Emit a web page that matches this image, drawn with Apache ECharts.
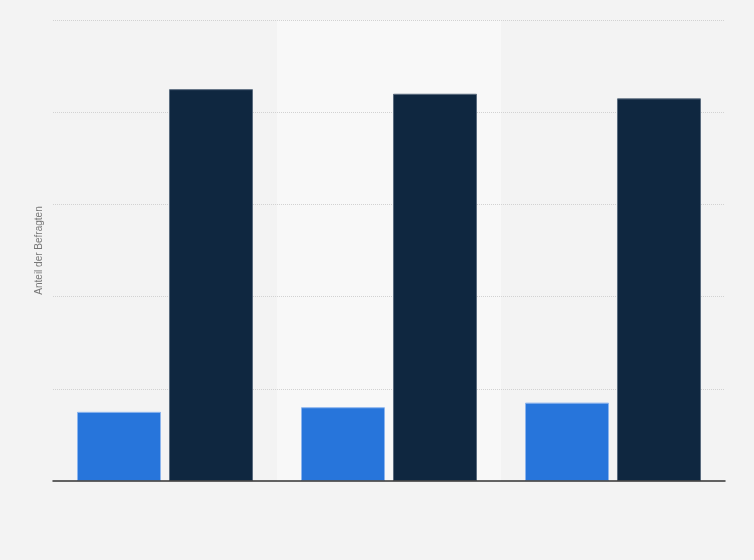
<!DOCTYPE html>
<html>
<head>
<meta charset="utf-8">
<script src="https://cdn.jsdelivr.net/npm/echarts@6/dist/echarts.min.js"></script>
<style>
html,body{margin:0;padding:0;background:#f3f3f3;}
#c{width:754px;height:560px;}
</style>
</head>
<body>
<div id="c"></div>
<script>
var categories = ['Kategorie 1', 'Kategorie 2', 'Kategorie 3'];
var seriesA = [15, 16, 17];
var seriesB = [85, 84, 83];
var yTicks = [0, 20, 40, 60, 80, 100];

var chart = echarts.init(document.getElementById('c'));
chart.setOption({
  backgroundColor: '#f3f3f3',
  animation: false,
  grid: { left: 53, right: 29, top: 20, bottom: 79, containLabel: false },
  xAxis: [
    {
      type: 'category',
      data: categories,
      position: 'bottom',
      z: 0,
      axisLine: { show: false },
      axisTick: { show: false },
      axisLabel: { show: false },
      splitArea: { show: true, areaStyle: { color: ['rgba(0,0,0,0)', '#f8f8f8'] } }
    },
    {
      type: 'category',
      data: categories,
      position: 'bottom',
      offset: 0,
      z: 10,
      axisLine: { show: true, lineStyle: { color: '#333333', width: 1.5 } },
      axisTick: { show: false },
      axisLabel: { show: false },
      splitArea: { show: false },
      splitLine: { show: false }
    }
  ],
  yAxis: {
    type: 'value',
    z: 1,
    min: yTicks[0],
    max: yTicks[yTicks.length - 1],
    interval: yTicks[1] - yTicks[0],
    name: 'Anteil der Befragten',
    nameLocation: 'middle',
    nameGap: 9,
    nameTextStyle: { color: '#777777', fontSize: 10, fontFamily: 'Arial, Liberation Sans, sans-serif' },
    axisLine: { show: false },
    axisTick: { show: false },
    axisLabel: { show: false },
    splitLine: { show: true, showMinLine: false, lineStyle: { color: '#d2d2d2', type: [1, 1], width: 1 } }
  },
  series: [
    {
      type: 'bar',
      xAxisIndex: 0,
      data: seriesA,
      barWidth: 84,
      barGap: '9.5%',
      z: 3,
      itemStyle: { color: '#2775db', borderColor: '#8cb5ee', borderWidth: 1 }
    },
    {
      type: 'bar',
      xAxisIndex: 0,
      data: seriesB,
      barWidth: 84,
      barGap: '9.5%',
      z: 3,
      itemStyle: { color: '#0f2740', borderColor: '#5a6b7e', borderWidth: 1 }
    }
  ]
});
</script>
</body>
</html>
